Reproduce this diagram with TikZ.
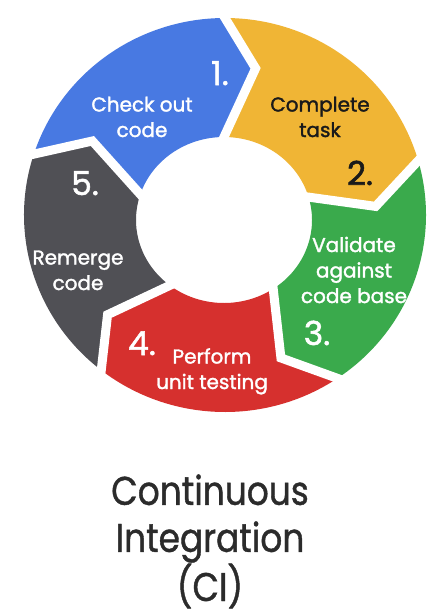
\documentclass[tikz,border=0pt]{standalone}
\usepackage{fontspec}
\setmainfont{Poppins}
\newfontfamily\labfont{Poppins}[FakeBold=1.6]
\newfontfamily\titlefont{Poppins}[FakeStretch=0.86,FakeBold=1.0]
\definecolor{gblue}{HTML}{4879E2}
\definecolor{gyellow}{HTML}{F0B535}
\definecolor{ggreen}{HTML}{3AAA4C}
\definecolor{gred}{HTML}{D6302E}
\definecolor{ggray}{HTML}{505055}
\definecolor{ttl}{HTML}{2B2B2B}
\definecolor{dark}{HTML}{1A1A1A}
\begin{document}
\begin{tikzpicture}[x=1pt,y=-1pt,
  sep/.style={white, line width=9pt, line join=miter, shorten <=-8pt, shorten >=-8pt},
  lbl/.style={text=white, align=center, anchor=base, inner sep=0pt, font=\labfont\fontsize{20}{25.5}\selectfont},
  num/.style={text=white, anchor=base, inner sep=0pt, font=\labfont\fontsize{33}{33}\selectfont},
  ttlstyle/.style={text=ttl, align=center, anchor=base, inner sep=0pt, font=\titlefont\fontsize{40}{47}\selectfont}]
\useasboundingbox (0,0) rectangle (442,614);
\fill[white] (0,0) rectangle (442,614);
\foreach \i/\a/\b in {0/198/210,1/270/282,2/344/356,3/416/428,4/488/500}{
  \coordinate (o\i) at ([shift={(225,215)}]\a:201 and 197);
  \coordinate (t\i) at ([shift={(224,217)}]\b:152);
  \coordinate (n\i) at ([shift={(224,220)}]\a:88 and 83);
}
% segments
\fill[gblue] (o0) arc[start angle=198,end angle=270,x radius=201,y radius=197] -- (t1) -- (n1)
  arc[start angle=270,end angle=198,x radius=88,y radius=83] -- (t0) -- cycle;
\fill[gyellow] (o1) arc[start angle=270,end angle=344,x radius=201,y radius=197] -- (t2) -- (n2)
  arc[start angle=344,end angle=270,x radius=88,y radius=83] -- (t1) -- cycle;
\fill[ggreen] (o2) arc[start angle=344,end angle=416,x radius=201,y radius=197] -- (t3) -- (n3)
  arc[start angle=416,end angle=344,x radius=88,y radius=83] -- (t2) -- cycle;
\fill[gred] (o3) arc[start angle=416,end angle=488,x radius=201,y radius=197] -- (t4) -- (n4)
  arc[start angle=488,end angle=416,x radius=88,y radius=83] -- (t3) -- cycle;
\fill[ggray] (o4) arc[start angle=488,end angle=558,x radius=201,y radius=197] -- (t0) -- (n0)
  arc[start angle=558,end angle=488,x radius=88,y radius=83] -- (t4) -- cycle;
% separators
\foreach \i in {0,...,4}{
  \draw[sep] (o\i) -- (t\i) -- (n\i);
}
% labels (base anchor = last line baseline)
\node[lbl] (l1) at (142,137) {Check out\\code};
\node[lbl, text=dark] (l2) at (320,137) {Complete\\task};
\node[lbl] (l3) at (354,303) {Validate\\against\\code base};
\node[lbl] (l4) at (212,389) {Perform\\unit testing};
\node[lbl] (l5) at (78,290) {Remerge\\code};
% numbers
\node[num] (n1l) at (220,85) {1.};
\node[num, text=dark] (n2l) at (360,185) {2.};
\node[num] (n3l) at (317,345) {3.};
\node[num] (n4l) at (142,355) {4.};
\node[num] (n5l) at (85,195) {5.};
% title
\node[ttlstyle] (title) at (210,601) {Continuous\\Integration\\(CI)};
\end{tikzpicture}
\end{document}
